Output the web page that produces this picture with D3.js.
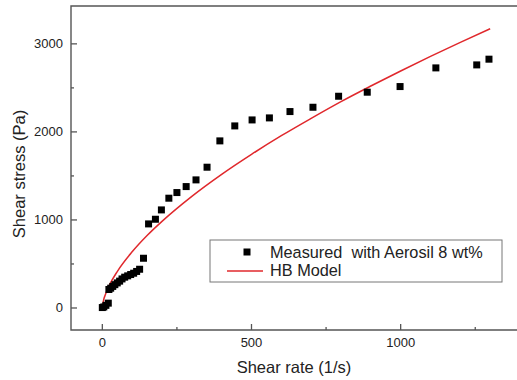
<!DOCTYPE html>
<html>
<head>
<meta charset="utf-8">
<script src="https://cdn.jsdelivr.net/npm/d3@7"></script>
<style>
  body { margin: 0; background: #fff; }
  text { font-family: "Liberation Sans", Arial, sans-serif; fill: #222; white-space: pre; }
</style>
</head>
<body>
<svg id="chart" width="517" height="380"></svg>
<script>
// measured points (shear rate 1/s, shear stress Pa)
var measured_rate = [0, 5, 12, 20, 22, 28, 35, 42, 50, 58, 66, 75, 85, 95, 105, 115, 125, 138, 155, 178, 198, 223, 250, 281, 314, 351, 394, 444, 502, 560, 629, 706, 792, 888, 998, 1118, 1255, 1296]
var measured_stress = [5, 12, 30, 55, 210, 225, 245, 265, 285, 305, 330, 350, 365, 380, 395, 415, 440, 565, 955, 1008, 1114, 1247, 1311, 1379, 1455, 1599, 1898, 2068, 2136, 2159, 2231, 2280, 2405, 2451, 2515, 2727, 2761, 2826]

// HB model curve
var model_rate = [0, 5, 10, 25, 50, 100, 150, 200, 300, 400, 500, 600, 700, 800, 900, 1000, 1100, 1200, 1300]
var model_stress = [15, 100, 150, 268, 414, 638, 823, 984, 1268, 1518, 1745, 1957, 2154, 2344, 2521, 2692, 2858, 3017, 3171]

var x_ticks = [0, 500, 1000]
var x_minor = [250, 750, 1250]
var y_ticks = [0, 1000, 2000, 3000]
var y_minor = [500, 1500, 2500]

var legend_names = ["Measured  with Aerosil 8 wt%", "HB Model"]

var svg = d3.select("#chart")
var plot_left = 71, plot_top = 6, plot_bottom = 330, plot_right = 520

var x = d3.scaleLinear().domain([-105, 1400]).range([plot_left, plot_right])
var y = d3.scaleLinear().domain([-250, 3430]).range([plot_bottom, plot_top])

var axis_color = "#555"

// frame (left, top, bottom; right edge falls outside the picture)
svg.append("path")
    .attr("d", "M" + plot_right + "," + plot_top + "H" + plot_left + "V" + plot_bottom + "H" + plot_right)
    .attr("fill", "none")
    .attr("stroke", axis_color)
    .attr("stroke-width", 1.4)

// x ticks, pointing inward
svg.selectAll(".xtick").data(x_ticks).enter().append("line")
    .attr("x1", function(d){ return x(d) }).attr("x2", function(d){ return x(d) })
    .attr("y1", plot_bottom).attr("y2", plot_bottom - 6)
    .attr("stroke", axis_color).attr("stroke-width", 1.3)
svg.selectAll(".xminor").data(x_minor).enter().append("line")
    .attr("x1", function(d){ return x(d) }).attr("x2", function(d){ return x(d) })
    .attr("y1", plot_bottom).attr("y2", plot_bottom - 3)
    .attr("stroke", axis_color).attr("stroke-width", 1.3)
svg.selectAll(".xlabel").data(x_ticks).enter().append("text")
    .attr("x", function(d){ return x(d) })
    .attr("y", 347)
    .attr("text-anchor", "middle")
    .attr("font-size", 13)
    .text(function(d){ return d })

// y ticks, pointing inward
svg.selectAll(".ytick").data(y_ticks).enter().append("line")
    .attr("y1", function(d){ return y(d) }).attr("y2", function(d){ return y(d) })
    .attr("x1", plot_left).attr("x2", plot_left + 6)
    .attr("stroke", axis_color).attr("stroke-width", 1.3)
svg.selectAll(".yminor").data(y_minor).enter().append("line")
    .attr("y1", function(d){ return y(d) }).attr("y2", function(d){ return y(d) })
    .attr("x1", plot_left).attr("x2", plot_left + 3)
    .attr("stroke", axis_color).attr("stroke-width", 1.3)
svg.selectAll(".ylabel").data(y_ticks).enter().append("text")
    .attr("x", 63)
    .attr("y", function(d){ return y(d) + 4.5 })
    .attr("text-anchor", "end")
    .attr("font-size", 13)
    .text(function(d){ return d })

// axis titles
svg.append("text")
    .attr("x", 294).attr("y", 373)
    .attr("text-anchor", "middle")
    .attr("font-size", 16.5)
    .text("Shear rate (1/s)")
svg.append("text")
    .attr("transform", "translate(25,174) rotate(-90)")
    .attr("text-anchor", "middle")
    .attr("font-size", 16.5)
    .text("Shear stress (Pa)")

// model line
var red = "#e0282c"
var model = d3.zip(model_rate, model_stress)
svg.append("path")
    .datum(model)
    .attr("fill", "none")
    .attr("stroke", red)
    .attr("stroke-width", 1.5)
    .attr("d", d3.line()
      .x(function(d){ return x(d[0]) })
      .y(function(d){ return y(d[1]) })
      .curve(d3.curveMonotoneX))

// measured squares
var size = 7
svg.selectAll(".pt").data(d3.zip(measured_rate, measured_stress)).enter().append("rect")
    .attr("x", function(d){ return x(d[0]) - size/2 })
    .attr("y", function(d){ return y(d[1]) - size/2 })
    .attr("width", size).attr("height", size)
    .attr("fill", "#000")

// legend
var legend = svg.append("g").attr("transform", "translate(210,240)")
legend.append("rect")
    .attr("width", 292).attr("height", 42)
    .attr("fill", "#fff")
    .attr("stroke", "#777").attr("stroke-width", 1)
legend.append("rect")
    .attr("x", 37 - size/2).attr("y", 12 - size/2)
    .attr("width", size).attr("height", size)
    .attr("fill", "#000")
legend.append("line")
    .attr("x1", 17).attr("x2", 53)
    .attr("y1", 31).attr("y2", 31)
    .attr("stroke", red).attr("stroke-width", 1.5)
legend.selectAll(".lt").data(legend_names).enter().append("text")
    .attr("x", 60)
    .attr("y", function(d, i){ return 17.5 + i * 18.5 })
    .attr("font-size", 16.3)
    .text(function(d){ return d })
</script>
</body>
</html>
